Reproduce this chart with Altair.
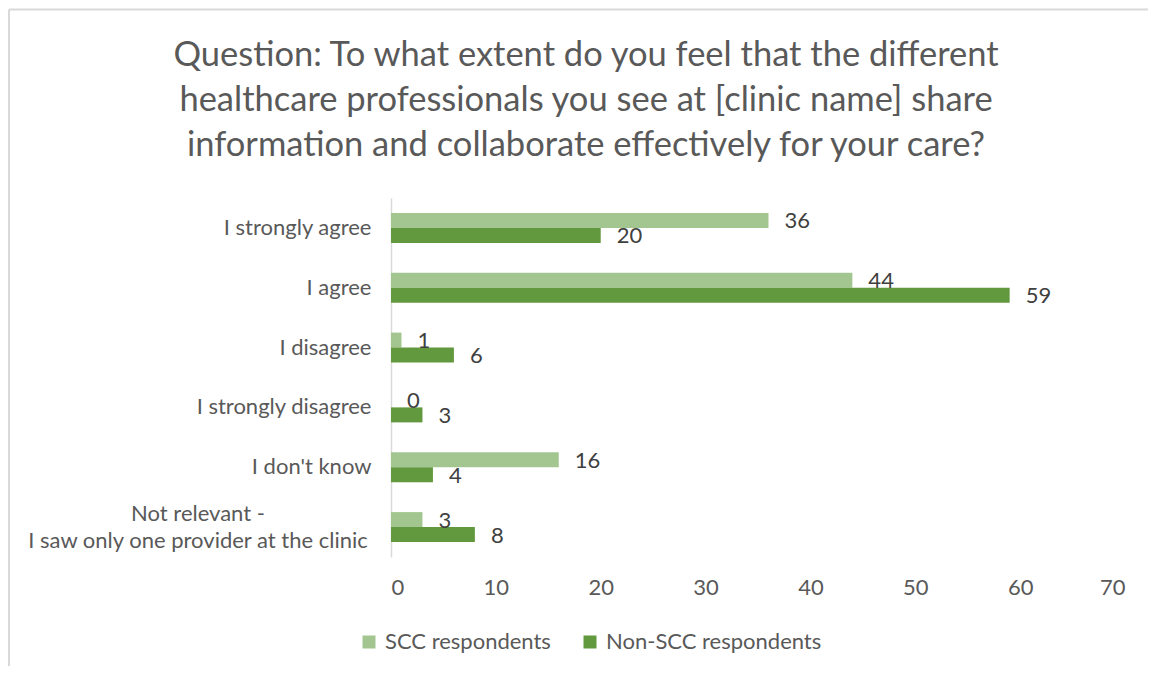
import altair as alt
import pandas as pd

categories = [
    "I strongly agree",
    "I agree",
    "I disagree",
    "I strongly disagree",
    "I don't know",
    "Not relevant - I saw only one provider at the clinic",
]
series = ["SCC respondents", "Non-SCC respondents"]
scc_values = [36, 44, 1, 0, 16, 3]
non_scc_values = [20, 59, 6, 3, 4, 8]
x_ticks = [0, 10, 20, 30, 40, 50, 60, 70]
title_lines = [
    "Question: To what extent do you feel that the different",
    "healthcare professionals you see at [clinic name] share",
    "information and collaborate effectively for your care?",
]
colors = ["#A3C690", "#62993E"]

rows = []
for c, a, b in zip(categories, scc_values, non_scc_values):
    rows.append({"category": c, "series": series[0], "value": a})
    rows.append({"category": c, "series": series[1], "value": b})
df = pd.DataFrame(rows)
cat_df = pd.DataFrame({"category": categories})

FONT = "Lato"
TXT = "#595959"
FS = 22

# long (two-line) labels are drawn centred by a text layer, like Excel does
long_test = "indexof(datum.label, ' - ') >= 0"

y_enc = alt.Y(
    "category:N",
    sort=categories,
    scale=alt.Scale(paddingInner=0.5, paddingOuter=0.25),
    axis=alt.Axis(
        title=None,
        ticks=False,
        domain=True,
        domainColor="#D9D9D9",
        domainWidth=1.5,
        labelFont=FONT,
        labelFontSize=FS,
        labelColor=TXT,
        labelPadding=20,
        labelLimit=500,
        labelExpr=f"{long_test} ? '' : datum.label",
    ),
)
yoff = alt.YOffset("series:N", sort=series)
x_enc = alt.X(
    "value:Q",
    scale=alt.Scale(domain=[0, 70], nice=False),
    axis=alt.Axis(
        title=None,
        values=x_ticks,
        grid=False,
        ticks=False,
        domain=False,
        labelFont=FONT,
        labelFontSize=FS,
        labelColor=TXT,
        labelPadding=20,
    ),
)

bars = alt.Chart(df).mark_bar(size=15).encode(
    y=y_enc,
    yOffset=yoff,
    x=x_enc,
    color=alt.Color(
        "series:N",
        sort=series,
        scale=alt.Scale(domain=series, range=colors),
        legend=alt.Legend(
            title=None,
            orient="none",
            legendX=-33,
            legendY=433,
            direction="horizontal",
            symbolType="square",
            symbolSize=169,
            symbolStrokeWidth=0,
            labelFont=FONT,
            labelFontSize=FS,
            labelColor=TXT,
            labelOffset=5,
            labelLimit=400,
            columnPadding=28,
        ),
    ),
)

labels = alt.Chart(df).mark_text(
    align="left", baseline="middle", dx=16, dy=1, font=FONT, fontSize=FS, color="#404040"
).encode(
    y=alt.Y("category:N", sort=categories),
    yOffset=yoff,
    x="value:Q",
    text="value:Q",
)

long_label = (
    alt.Chart(cat_df)
    .transform_filter("indexof(datum.category, ' - ') >= 0")
    .transform_calculate(txt="replace(datum.category, ' - ', ' -|')")
    .mark_text(
        align="center",
        baseline="middle",
        lineBreak="|",
        lineHeight=27,
        dy=-13,
        font=FONT,
        fontSize=FS,
        color=TXT,
    )
    .encode(
        y=alt.Y("category:N", sort=categories),
        x=alt.value(-193),
        text="txt:N",
    )
)

frame_df = pd.DataFrame({"k": [0]})
frame_top = alt.Chart(frame_df).mark_rule(color="#D9D9D9", strokeWidth=2).encode(
    x=alt.value(-382), x2=alt.value(800), y=alt.value(-188.5)
)
frame_left = alt.Chart(frame_df).mark_rule(color="#D9D9D9", strokeWidth=2).encode(
    x=alt.value(-382), y=alt.value(-188.5), y2=alt.value(500)
)
title = alt.Chart(frame_df).mark_text(
    text=title_lines,
    font=FONT,
    fontSize=34.5,
    lineHeight=45,
    color=TXT,
    align="center",
    baseline="alphabetic",
).encode(x=alt.value(195), y=alt.value(-132))

chart = (
    alt.layer(frame_top, frame_left, title, bars, labels, long_label)
    .properties(
        width=734,
        height=359,
        padding={"left": 383, "top": 190, "right": 23, "bottom": 109},
        autosize=alt.AutoSizeParams(type="none"),
        background="white",
    )
    .configure_view(strokeWidth=0, stroke=None)
)

chart.save("out.html", embed_options={"renderer": "svg", "actions": False})
